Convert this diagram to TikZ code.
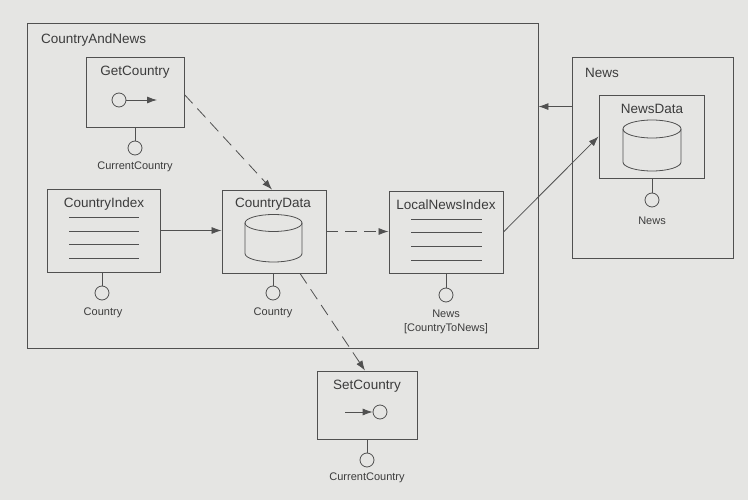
\documentclass[tikz,border=0pt]{standalone}
\usepackage{fontspec}
\setmainfont{Liberation Sans}
\usetikzlibrary{arrows.meta,calc}
\definecolor{bgc}{RGB}{229,229,227}
\definecolor{linec}{RGB}{80,80,80}
\definecolor{textc}{RGB}{60,60,60}
\begin{document}
\begin{tikzpicture}[x=1pt,y=-1pt,
  box/.style={draw=linec, line width=0.9pt, rectangle, inner sep=0pt},
  title/.style={text=textc, font=\fontsize{13.5}{15}\selectfont, inner sep=0pt},
  small/.style={text=textc, font=\fontsize{11}{14}\selectfont, inner sep=0pt, align=center},
  port/.style={circle, draw=linec, line width=0.8pt, minimum size=14pt, inner sep=0pt},
  plain/.style={draw=linec, line width=0.8pt},
  arr/.style={draw=linec, line width=0.8pt, -{Latex[length=10pt,width=7pt]}},
  darr/.style={arr, dash pattern=on 12pt off 7pt},
]
\fill[bgc] (0,0) rectangle (748,500);
\useasboundingbox (0,0) rectangle (748,500);

% boxes
\node[box, minimum width=511pt, minimum height=325pt] (outer) at (282.5,185.5) {};
\node[box, minimum width=98pt, minimum height=70pt] (gc) at (135,92) {};
\node[box, minimum width=113pt, minimum height=83pt] (ci) at (103.5,230.5) {};
\node[box, minimum width=104pt, minimum height=83pt] (cd) at (274,231.5) {};
\node[box, minimum width=114pt, minimum height=82pt] (lni) at (446,232) {};
\node[box, minimum width=100pt, minimum height=68pt] (sc) at (367,405) {};
\node[box, minimum width=161pt, minimum height=201pt] (news) at (652.5,157.5) {};
\node[box, minimum width=105pt, minimum height=83pt] (nd) at (651.5,136.5) {};

% titles
\node[title, anchor=west] (tOuter) at (41,40) {CountryAndNews};
\node[title, anchor=west] (tNews) at (585,73) {News};
\node[title] (tgc) at (135,72) {GetCountry};
\node[title] (tci) at (104,204) {CountryIndex};
\node[title] (tcd) at (273,204) {CountryData};
\node[title] (tlni) at (446,205) {LocalNewsIndex};
\node[title] (tnd) at (652,109) {NewsData};
\node[title] (tsc) at (367,386) {SetCountry};

% index lines
\foreach \y in {217,231,244,258} \draw[plain] (69,\y) -- (139,\y);
\foreach \y in {219,232,246,260} \draw[plain] (411,\y) -- (482,\y);

% cylinders
\draw[plain] (245,223) -- (245,253.5) arc[start angle=180, end angle=360, x radius=28.5pt, y radius=8.5pt] -- (302,223);
\draw[plain] (273.5,223) ellipse[x radius=28.5pt, y radius=8.5pt];
\draw[plain] (623,129) -- (623,162) arc[start angle=180, end angle=360, x radius=29pt, y radius=9pt] -- (681,129);
\draw[plain] (652,129) ellipse[x radius=29pt, y radius=9pt];

% inner operation symbols
\node[port] (gcin) at (119,100) {};
\coordinate (gcout) at (157,100);
\draw[arr] (gcin) -- (gcout);
\node[port] (scin) at (380,412) {};
\coordinate (scsrc) at (345,412);
\draw[arr] (scsrc) -- (scin);

% ports (lollipops)
\node[port] (pgc) at (135,148) {};
\node[port] (pci) at (102,293) {};
\node[port] (pcd) at (273,293) {};
\node[port] (plni) at (446,295) {};
\node[port] (pnd) at (652,200) {};
\node[port] (psc) at (367,460) {};
\draw[plain] (pgc) -- (pgc |- gc.south);
\draw[plain] (pci) -- (pci |- ci.south);
\draw[plain] (pcd) -- (pcd |- cd.south);
\draw[plain] (plni) -- (plni |- lni.south);
\draw[plain] (pnd) -- (pnd |- nd.south);
\draw[plain] (psc) -- (psc |- sc.south);

\node[small] (lgc) at (135,167) {CurrentCountry};
\node[small] (lci) at (103,313) {Country};
\node[small] (lcd) at (273,313) {Country};
\node[small] (llni) at (446,322) {News\\{[CountryToNews]}};
\node[small] (lnd) at (652,221) {News};
\node[small] (lsc) at (367,478) {CurrentCountry};

% connectors
\coordinate (gcsrc) at ($(gc.north east)+(0,38)$);
\coordinate (cdtop) at ($(cd.north)+(-2,0)$);
\coordinate (cdsrc) at ($(cd.south)+(26,0)$);
\coordinate (sctop) at ($(sc.north)+(-2,0)$);
\coordinate (newsl) at ($(news.north west)+(0,50)$);
\draw[darr] (gcsrc) -- (cdtop);
\draw[arr] (ci.east) -- (ci.east -| cd.west);
\draw[darr] (cd.east) -- (cd.east -| lni.west);
\draw[darr] (cdsrc) -- (sctop);
\draw[arr] (lni.east) -- (nd.west);
\draw[arr] (newsl) -- (newsl -| outer.east);
\end{tikzpicture}
\end{document}
